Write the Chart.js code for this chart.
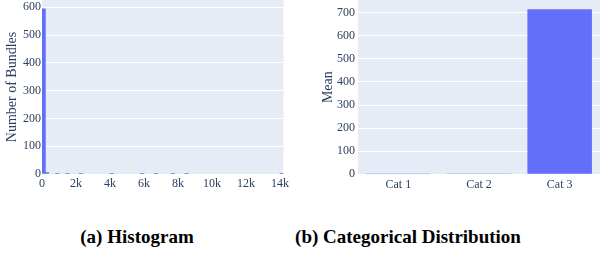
<!DOCTYPE html>
<html lang="en">
<head>
    <meta charset="UTF-8">
    <title>Histogram and Categorical Distribution</title>
    <script src="https://cdn.jsdelivr.net/npm/chart.js"></script>
    <style>
        body {
            margin: 0;
            background: #ffffff;
            width: 607px;
            height: 256px;
            position: relative;
            overflow: hidden;
        }
        .panel {
            position: absolute;
            top: 0;
        }
        .caption {
            position: absolute;
            top: 226px;
            font-family: "Liberation Serif", serif;
            font-weight: bold;
            font-size: 19px;
            color: #000;
            white-space: nowrap;
            transform: translateX(-50%);
        }
    </style>
</head>
<body>
    <div class="panel" style="left:0px"><canvas id="histChart" width="290" height="200"></canvas></div>
    <div class="panel" style="left:300px"><canvas id="catChart" width="307" height="200"></canvas></div>
    <div class="caption" style="left:137px">(a) Histogram</div>
    <div class="caption" style="left:408px">(b) Categorical Distribution</div>

    <script>
        // histogram bins (start of each 200-wide bin) and counts, only non-empty bins
        const binWidth = 200;
        const binStarts = [0, 200, 800, 1400, 2200, 4000, 5800, 6600, 7600, 8400, 14000];
        const binCounts = [594, 5, 1, 1, 1, 1, 1, 1, 1, 2, 1];
        const histTicks = [0, 2000, 4000, 6000, 8000, 10000, 12000, 14000];

        // categorical means
        const categories = ['Cat 1', 'Cat 2', 'Cat 3'];
        const means = [0.1, 4, 715];

        const barColor = '#636efa';
        const tickColor = '#2a3f5f';
        const serif = '"Liberation Serif", "DejaVu Serif", serif';

        // paint the plot area like plotly's default template
        const plotBg = {
            id: 'plotBg',
            beforeDraw(chart) {
                const a = chart.chartArea;
                const ctx = chart.ctx;
                ctx.save();
                ctx.fillStyle = '#e5ecf6';
                ctx.fillRect(a.left, a.top, a.right - a.left, a.bottom - a.top);
                ctx.restore();
            }
        };

        // fixed axis sizes, no extra padding for edge labels
        function fixSize(w, h) {
            return function (scale) {
                if (w !== null) scale.width = w;
                if (h !== null) scale.height = h;
                scale.paddingTop = 0;
                scale.paddingBottom = 0;
                scale.paddingLeft = 0;
                scale.paddingRight = 0;
            };
        }

        Chart.defaults.animation = false;
        Chart.defaults.responsive = false;
        Chart.defaults.plugins.legend.display = false;
        Chart.defaults.plugins.tooltip.enabled = false;

        new Chart(document.getElementById('histChart'), {
            type: 'bar',
            data: {
                datasets: [{
                    data: binStarts.map((s, i) => ({ x: s + binWidth / 2, y: binCounts[i] })),
                    backgroundColor: barColor,
                    barPercentage: 1,
                    categoryPercentage: 1
                }]
            },
            options: {
                layout: { padding: { top: 0, right: 6.6, bottom: 0, left: 0 } },
                scales: {
                    x: {
                        type: 'linear',
                        offset: false,
                        min: 0,
                        max: 14200,
                        afterFit: fixSize(null, 26),
                        afterBuildTicks(scale) {
                            scale.ticks = histTicks.map(v => ({ value: v }));
                        },
                        grid: { display: false, offset: false, drawTicks: false },
                        border: { display: false },
                        ticks: {
                            autoSkip: false,
                            maxRotation: 0,
                            padding: 3,
                            color: tickColor,
                            font: { family: serif, size: 12 },
                            callback: v => v === 0 ? '0' : (v / 1000) + 'k'
                        }
                    },
                    y: {
                        min: 0,
                        max: 626,
                        afterFit: fixSize(42, null),
                        grid: { color: '#ffffff', lineWidth: 1, drawTicks: false },
                        border: { display: false },
                        ticks: {
                            stepSize: 100,
                            includeBounds: false,
                            padding: 1,
                            color: tickColor,
                            font: { family: serif, size: 12 }
                        },
                        title: {
                            display: true,
                            text: 'Number of Bundles',
                            color: tickColor,
                            padding: { top: 4, bottom: 0 },
                            font: { family: serif, size: 14 }
                        }
                    }
                }
            },
            plugins: [plotBg]
        });

        new Chart(document.getElementById('catChart'), {
            type: 'bar',
            data: {
                labels: categories,
                datasets: [{
                    data: means,
                    backgroundColor: barColor,
                    barPercentage: 0.8,
                    categoryPercentage: 1
                }]
            },
            options: {
                layout: { padding: { top: 0, right: 7, bottom: 0, left: 0 } },
                scales: {
                    x: {
                        afterFit: fixSize(null, 25.7),
                        grid: { display: false, drawTicks: false },
                        border: { display: false },
                        ticks: {
                            padding: 3,
                            color: tickColor,
                            font: { family: serif, size: 12 }
                        }
                    },
                    y: {
                        min: 0,
                        max: 755,
                        afterFit: fixSize(58, null),
                        grid: { color: '#ffffff', lineWidth: 1, drawTicks: false },
                        border: { display: false },
                        ticks: {
                            stepSize: 100,
                            includeBounds: false,
                            padding: 3,
                            color: tickColor,
                            font: { family: serif, size: 12 }
                        },
                        title: {
                            display: true,
                            text: 'Mean',
                            color: tickColor,
                            padding: { top: 19.6, bottom: 0 },
                            font: { family: serif, size: 14 }
                        }
                    }
                }
            },
            plugins: [plotBg]
        });
    </script>
</body>
</html>
